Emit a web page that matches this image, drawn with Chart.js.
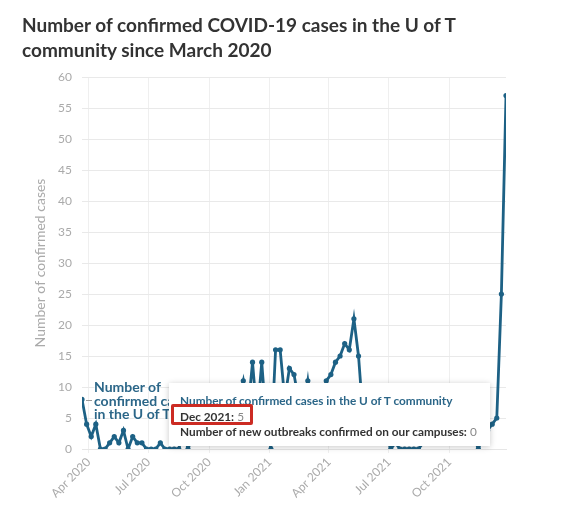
<!DOCTYPE html>
<html>
<head>
<meta charset="utf-8">
<script src="https://cdn.jsdelivr.net/npm/chart.js@4.4.1/dist/chart.umd.min.js"></script>
<style>
  body { margin: 0; background: #fff; font-family: Lato, sans-serif; }
  #page { position: relative; width: 584px; height: 506px; overflow: hidden; }
  #chart { position: absolute; left: 0; top: 0; }
  #title { position: absolute; left: 22px; top: 12px; font-size: 19px; font-weight: 700; color: #333; line-height: 25px; white-space: nowrap; }
  #seriesLabel { position: absolute; left: 94px; top: 380px; font-size: 14px; font-weight: 700; color: #2b6688; line-height: 13.5px; white-space: nowrap;
    text-shadow: 0 0 2px #fff, 0 0 2px #fff, 0 0 2px #fff; }
  #leader { position: absolute; left: 86px; top: 400px; width: 6px; height: 1px; background: #999; }
  #tip { position: absolute; background: #fff; box-shadow: 0 1px 6px rgba(0,0,0,0.22); padding: 10px 13px 6px 11px; font-size: 11.8px; line-height: 15.5px; white-space: nowrap; color: #333; }
  #tip .head { color: #2b6688; font-weight: 700; }
  #tip b { font-weight: 700; color: #333; }
  #tip .val { color: #888; font-weight: 400; }
  #mark { position: absolute; left: 2px; top: 21px; width: 76px; height: 15px; border: 3px solid #cc2b23; border-radius: 2px; }
</style>
</head>
<body>
<div id="page">
  <canvas id="chart" width="584" height="506"></canvas>
  <div id="title">Number of confirmed COVID-19 cases in the U of T<br>community since March 2020</div>
  <div id="leader"></div>
  <div id="seriesLabel">Number of<br>confirmed cases<br>in the U of T community</div>
  <div id="tip"></div>
</div>
<script>
// weekly reporting dates
const weeks = [
  '2020-03-22', '2020-03-29', '2020-04-05', '2020-04-12', '2020-04-19', '2020-04-26',
  '2020-05-03', '2020-05-10', '2020-05-17', '2020-05-24', '2020-05-31',
  '2020-06-07', '2020-06-14', '2020-06-21', '2020-06-28',
  '2020-07-05', '2020-07-12', '2020-07-19', '2020-07-26',
  '2020-08-02', '2020-08-09', '2020-08-16', '2020-08-23', '2020-08-30',
  '2020-09-06', '2020-09-13', '2020-09-20', '2020-09-27',
  '2020-10-04', '2020-10-11', '2020-10-18', '2020-10-25',
  '2020-11-01', '2020-11-08', '2020-11-15', '2020-11-22', '2020-11-29',
  '2020-12-06', '2020-12-13', '2020-12-20', '2020-12-27',
  '2021-01-03', '2021-01-10', '2021-01-17', '2021-01-24', '2021-01-31',
  '2021-02-07', '2021-02-14', '2021-02-21', '2021-02-28',
  '2021-03-07', '2021-03-14', '2021-03-21', '2021-03-28',
  '2021-04-04', '2021-04-11', '2021-04-18', '2021-04-25',
  '2021-05-02', '2021-05-09', '2021-05-16', '2021-05-23', '2021-05-30',
  '2021-06-06', '2021-06-13', '2021-06-20', '2021-06-27',
  '2021-07-04', '2021-07-11', '2021-07-18', '2021-07-25',
  '2021-08-01', '2021-08-08', '2021-08-15', '2021-08-22', '2021-08-29',
  '2021-09-05', '2021-09-12', '2021-09-19', '2021-09-26',
  '2021-10-03', '2021-10-10', '2021-10-17', '2021-10-24', '2021-10-31',
  '2021-11-07', '2021-11-14', '2021-11-21', '2021-11-28',
  '2021-12-05', '2021-12-12', '2021-12-19', '2021-12-26'
];

// confirmed cases per week (values under the tooltip are estimates)
const cases = [
  8, 4, 2, 4, 0, 0,
  1, 2, 1, 3, 0,
  2, 1, 1, 0,
  0, 0, 1, 0,
  0, 0, 0, 3, 0,
  2, 3, 4, 2,
  5, 3, 6, 4,
  7, 5, 8, 11, 6,
  14, 5, 14, 4,
  0, 16, 16, 8, 13,
  12, 8, 6, 11,
  5, 4, 7, 11,
  12, 14, 15, 17,
  16, 21, 15, 5, 3,
  2, 2, 1, 2,
  0, 1, 0, 0,
  0, 0, 0, 1, 2,
  2, 3, 2, 1,
  2, 3, 2, 4, 3,
  2, 0, 2, 3,
  4, 5, 25, 57
];

const xTickDates = ['2020-04-01', '2020-07-01', '2020-10-01', '2021-01-01', '2021-04-01', '2021-07-01', '2021-10-01'];
const monthNames = ['Jan', 'Feb', 'Mar', 'Apr', 'May', 'Jun', 'Jul', 'Aug', 'Sep', 'Oct', 'Nov', 'Dec'];

const seriesName = 'Number of confirmed cases in the U of T community';
const outbreaksName = 'Number of new outbreaks confirmed on our campuses';
const tipIndex = 90;      // Dec 2021 point shown in the tooltip
const tipOutbreaks = 0;

const lineColor = '#1d6185';
const gray = '#aaa';

const toTime = s => Date.parse(s);
const monthLabel = t => {
  const d = new Date(t);
  return monthNames[d.getUTCMonth()] + ' ' + d.getUTCFullYear();
};

const points = weeks.map((w, i) => ({ x: toTime(w), y: cases[i] }));

const chart = new Chart(document.getElementById('chart'), {
  type: 'line',
  data: {
    datasets: [{
      label: seriesName,
      data: points,
      borderColor: lineColor,
      backgroundColor: lineColor,
      borderWidth: 2.8,
      pointRadius: 2.6,
      pointBorderWidth: 0,
      tension: 0
    }]
  },
  options: {
    responsive: false,
    animation: false,
    events: [],
    layout: { padding: { top: 77, right: 78, bottom: 0, left: 0 } },
    plugins: {
      legend: { display: false },
      tooltip: { enabled: false }
    },
    scales: {
      x: {
        type: 'linear',
        min: toTime(weeks[0]),
        max: toTime(weeks[weeks.length - 1]),
        afterBuildTicks: s => { s.ticks = xTickDates.map(d => ({ value: toTime(d) })); },
        afterFit: s => { s.height = 57; },
        ticks: {
          callback: v => monthLabel(v),
          autoSkip: false,
          minRotation: 45,
          maxRotation: 45,
          color: gray,
          padding: 2,
          font: { family: 'Lato', size: 12 }
        },
        grid: { color: '#efefef', tickLength: 4 },
        border: { color: '#e6e6e6' }
      },
      y: {
        min: 0,
        max: 60,
        afterFit: s => { s.width = 82; },
        ticks: { stepSize: 5, color: gray, padding: 10, font: { family: 'Lato', size: 12 } },
        title: {
          display: true,
          text: 'Number of confirmed cases',
          color: gray,
          padding: { top: 32, bottom: 0 },
          font: { family: 'Lato', size: 14 }
        },
        grid: { color: '#e9e9e9', drawTicks: false },
        border: { display: false }
      }
    }
  }
});

// tooltip for the highlighted point
const pt = chart.getDatasetMeta(0).data[tipIndex];
const tip = document.getElementById('tip');
tip.innerHTML =
  '<div class="head">' + seriesName + '</div>' +
  '<div><b>' + monthLabel(toTime(weeks[tipIndex])) + ':</b> <span class="val">' + cases[tipIndex] + '</span></div>' +
  '<div><b>' + outbreaksName + ':</b> <span class="val">' + tipOutbreaks + '</span></div>' +
  '<div id="mark"></div>';
tip.style.left = Math.round(pt.x - 328) + 'px';
tip.style.top = Math.round(pt.y - 35) + 'px';
</script>
</body>
</html>
